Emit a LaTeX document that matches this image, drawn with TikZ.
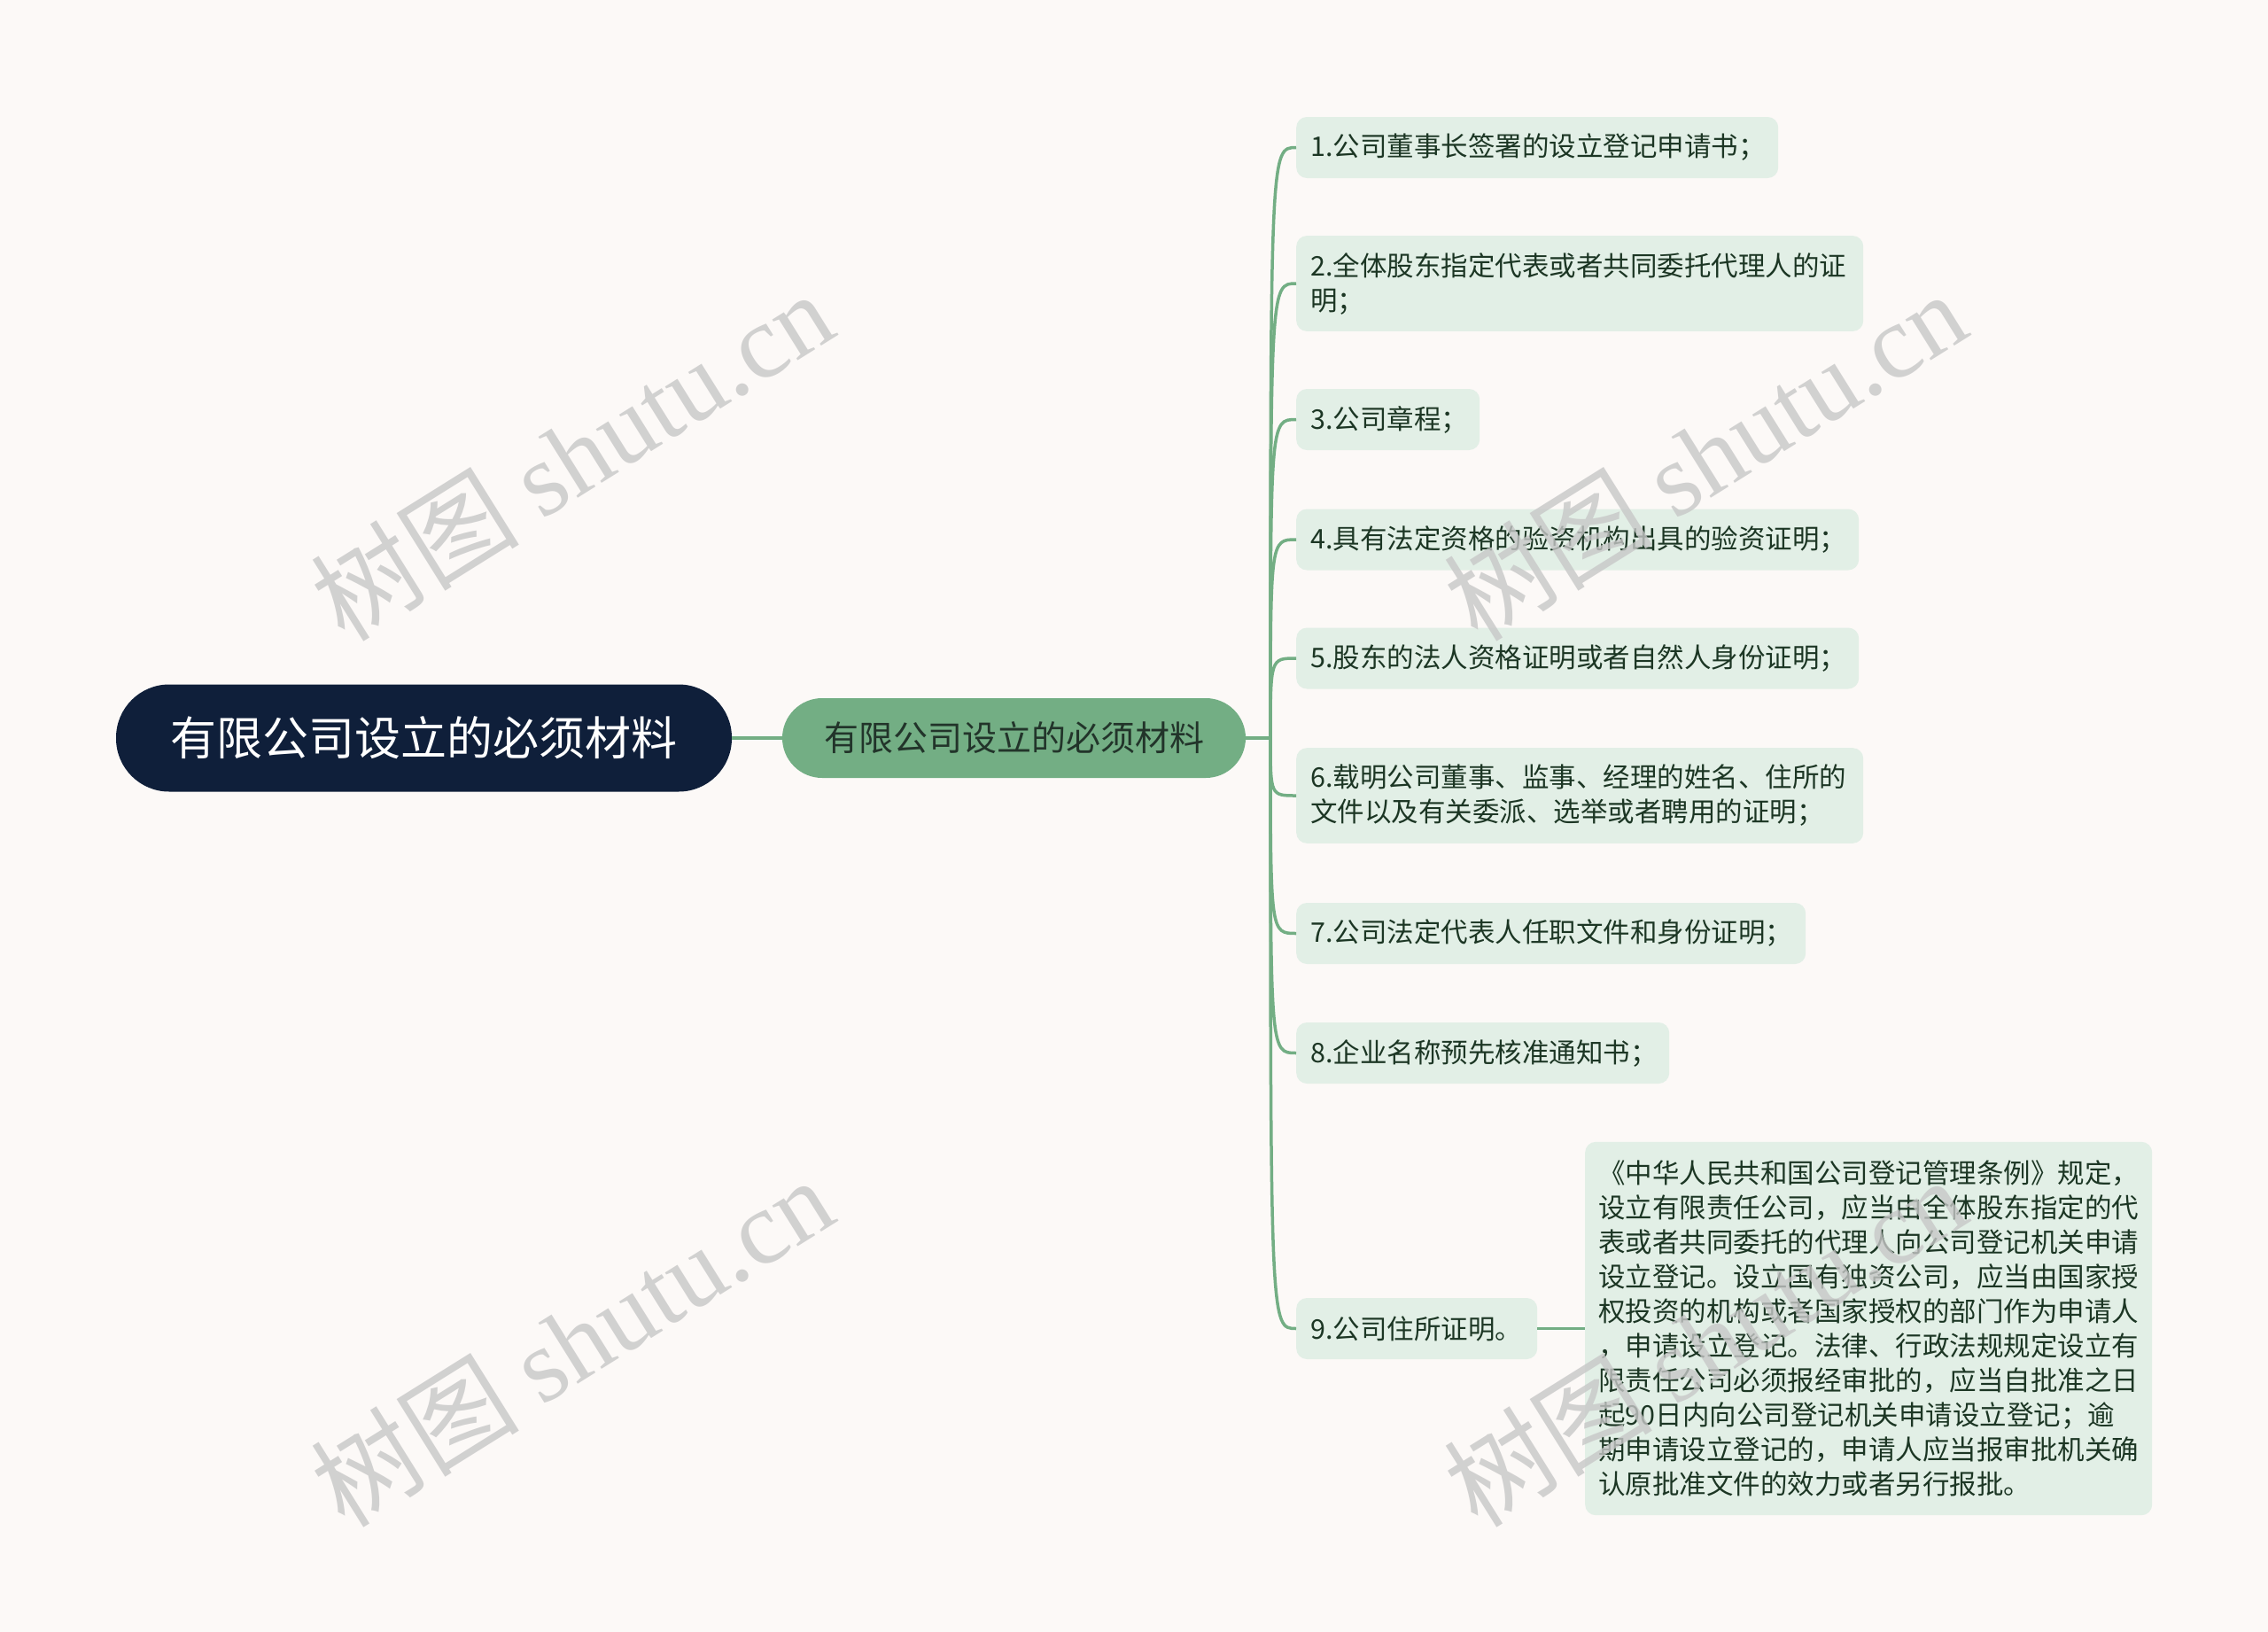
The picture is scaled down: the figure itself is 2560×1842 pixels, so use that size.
\documentclass[tikz,border=0pt]{standalone}
\usepackage{fontspec}
\setmainfont{Noto Sans CJK SC}
\newfontfamily\wmserif{Liberation Serif}
\definecolor{bgcol}{HTML}{FCF9F7}
\definecolor{rootcol}{HTML}{0F1F3A}
\definecolor{linkcol}{HTML}{73AE84}
\definecolor{leafcol}{HTML}{E2EFE6}
\definecolor{leaftext}{HTML}{1C3624}
\definecolor{subtext}{HTML}{22342A}
\tikzset{
  root/.style={fill=rootcol,text=white,rounded corners=60pt,
    minimum width=695pt,minimum height=121pt,
    font=\fontsize{52}{60}\selectfont},
  sub/.style={fill=linkcol,text=subtext,rounded corners=45pt,
    minimum width=523pt,minimum height=90pt,
    font=\fontsize{39}{46}\selectfont},
  leaf/.style={fill=leafcol,text=leaftext,rounded corners=12pt,
    anchor=west,align=left,inner xsep=16pt,inner ysep=19pt,
    minimum height=69pt,font=\fontsize{30.5}{39}\selectfont},
  link/.style={draw=linkcol,line width=3.5pt},
  wmark/.style={text=black!22,opacity=0.8,rotate=32,
    font=\fontsize{118}{128}\selectfont}
}
\begin{document}
\begin{tikzpicture}[x=1pt,y=-1pt]
  \fill[bgcol] (0,0) rectangle (2560,1842);
  \useasboundingbox (0,0) rectangle (2560,1842);
  % main nodes
  \node[root] (root) at (478.5,833) {有限公司设立的必须材料};
  \node[sub] (sub) at (1144.5,833) {有限公司设立的必须材料};
  \coordinate (hub) at (1434,833);
  % leaves
  \foreach \n/\y/\w/\txt in {
      1/166.5/512/{1.公司董事长签署的设立登记申请书；},
      2/320/608/{2.全体股东指定代表或者共同委托代理人的证\\明；},
      3/473.5/175/{3.公司章程；},
      4/609/603/{4.具有法定资格的验资机构出具的验资证明；},
      5/743/603/{5.股东的法人资格证明或者自然人身份证明；},
      6/898/608/{6.载明公司董事、监事、经理的姓名、住所的\\文件以及有关委派、选举或者聘用的证明；},
      7/1053.5/543/{7.公司法定代表人任职文件和身份证明；},
      8/1188.5/389/{8.企业名称预先核准通知书；},
      9/1499.5/240/{9.公司住所证明。}}
    \node[leaf,text width=\w pt] (l\n) at (1463,\y) {\txt};
  \node[leaf,text width=610pt,inner xsep=15pt,inner ysep=21pt] (note)
    at (1789,1499.5)
    {《中华人民共和国公司登记管理条例》规定，\\
     设立有限责任公司，应当由全体股东指定的代\\
     表或者共同委托的代理人向公司登记机关申请\\
     设立登记。设立国有独资公司，应当由国家授\\
     权投资的机构或者国家授权的部门作为申请人\\
     ，申请设立登记。法律、行政法规规定设立有\\
     限责任公司必须报经审批的，应当自批准之日\\
     起90日内向公司登记机关申请设立登记；逾\\
     期申请设立登记的，申请人应当报审批机关确\\
     认原批准文件的效力或者另行报批。};
  % connectors
  \draw[link] (root.east) -- (sub.west);
  \draw[link] (sub.east) -- (hub);
  \foreach \n in {1,...,9}
    \draw[link] (hub) .. controls (hub |- l\n.west) .. (l\n.west);
  \draw[link] (l9.east) -- (note.west);
  % watermarks
  \foreach \x/\y [count=\k] in {645/514,1924/514,645/1514,1924/1514}
    \node[wmark] (wm\k) at (\x,\y) {树图 {\wmserif shutu.cn}};
\end{tikzpicture}
\end{document}
